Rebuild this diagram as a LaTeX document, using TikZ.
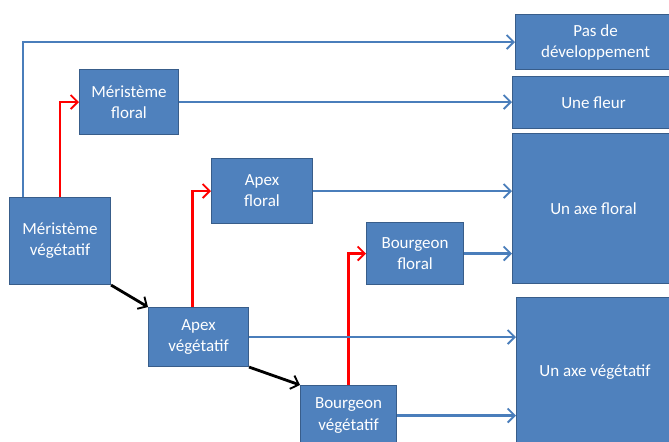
\documentclass[tikz,border=0pt]{standalone}
\usepackage{fontspec}
\setmainfont{Carlito}
\usetikzlibrary{calc,arrows.meta}

\definecolor{fondboite}{HTML}{4F81BD}
\definecolor{bordboite}{HTML}{385D8A}
\definecolor{trait}{HTML}{4A7EBB}

\begin{document}
\begin{tikzpicture}[x=0.03cm, y=-0.03cm,
   boite/.style={draw=bordboite, fill=fondboite, line width=0.9pt, text=white,
      align=center, inner sep=0pt, anchor=north west,
      font=\fontsize{14.5}{18}\selectfont},
   pointe/.style={-{Straight Barb[length=6pt,width=12pt,line width=1.6pt]}},
   bleufl/.style={pointe, draw=trait, line width=2pt},
   rougefl/.style={pointe, draw=red, line width=2.5pt},
   noirfl/.style={pointe, draw=black, line width=2.4pt}]
   \def\px{0.03cm}
   \useasboundingbox (0,0) rectangle (669,441);
   % colonne de droite
   \node[boite, minimum width=160*\px, minimum height=55*\px] (pasdev) at (515,14) {Pas de\\développement};
   \node[boite, minimum width=162*\px, minimum height=52*\px] (fleur) at (512,76) {Une fleur};
   \node[boite, minimum width=162*\px, minimum height=150*\px] (axeflo) at (512,133) {Un axe floral};
   \node[boite, minimum width=157*\px, minimum height=150*\px] (axeveg) at (516,297) {Un axe végétatif};
   % meristemes, apex, bourgeons
   \node[boite, minimum width=101*\px, minimum height=87*\px] (merveg) at (9,197) {Méristème\\végétatif};
   \node[boite, minimum width=99*\px, minimum height=65*\px] (merflo) at (79,69) {Méristème\\floral};
   \node[boite, minimum width=101*\px, minimum height=65*\px] (apexflo) at (211,158) {Apex\\floral};
   \node[boite, minimum width=100*\px, minimum height=59*\px] (apexveg) at (148,307) {Apex\\végétatif};
   \node[boite, minimum width=97*\px, minimum height=62*\px] (bourgflo) at (366,222) {Bourgeon\\floral};
   \node[boite, minimum width=96*\px, minimum height=60*\px] (bourgveg) at (300,385) {Bourgeon\\végétatif};
   % fleches
   \draw[bleufl] ($(merveg.north west)!0.14!(merveg.north east)$) |- (pasdev.west);
   \draw[rougefl] (merveg.north) |- (merflo.west);
   \draw[bleufl] (merflo.east) -- (merflo.east -| fleur.west);
   \draw[rougefl] ($(apexveg.north west)!0.44!(apexveg.north east)$) |- (apexflo.west);
   \draw[bleufl] (apexflo.east) -- (apexflo.east -| axeflo.west);
   \draw[rougefl] (bourgveg.north) |- (bourgflo.west);
   \draw[bleufl] (bourgflo.east) -- (bourgflo.east -| axeflo.west);
   \draw[bleufl] (apexveg.east) -- (apexveg.east -| axeveg.west);
   \draw[bleufl] (bourgveg.east) -- (bourgveg.east -| axeveg.west);
   \draw[noirfl] (merveg.south east) -- (apexveg.north west);
   \draw[noirfl] (apexveg.south east) -- (bourgveg.north west);
\end{tikzpicture}
\end{document}
